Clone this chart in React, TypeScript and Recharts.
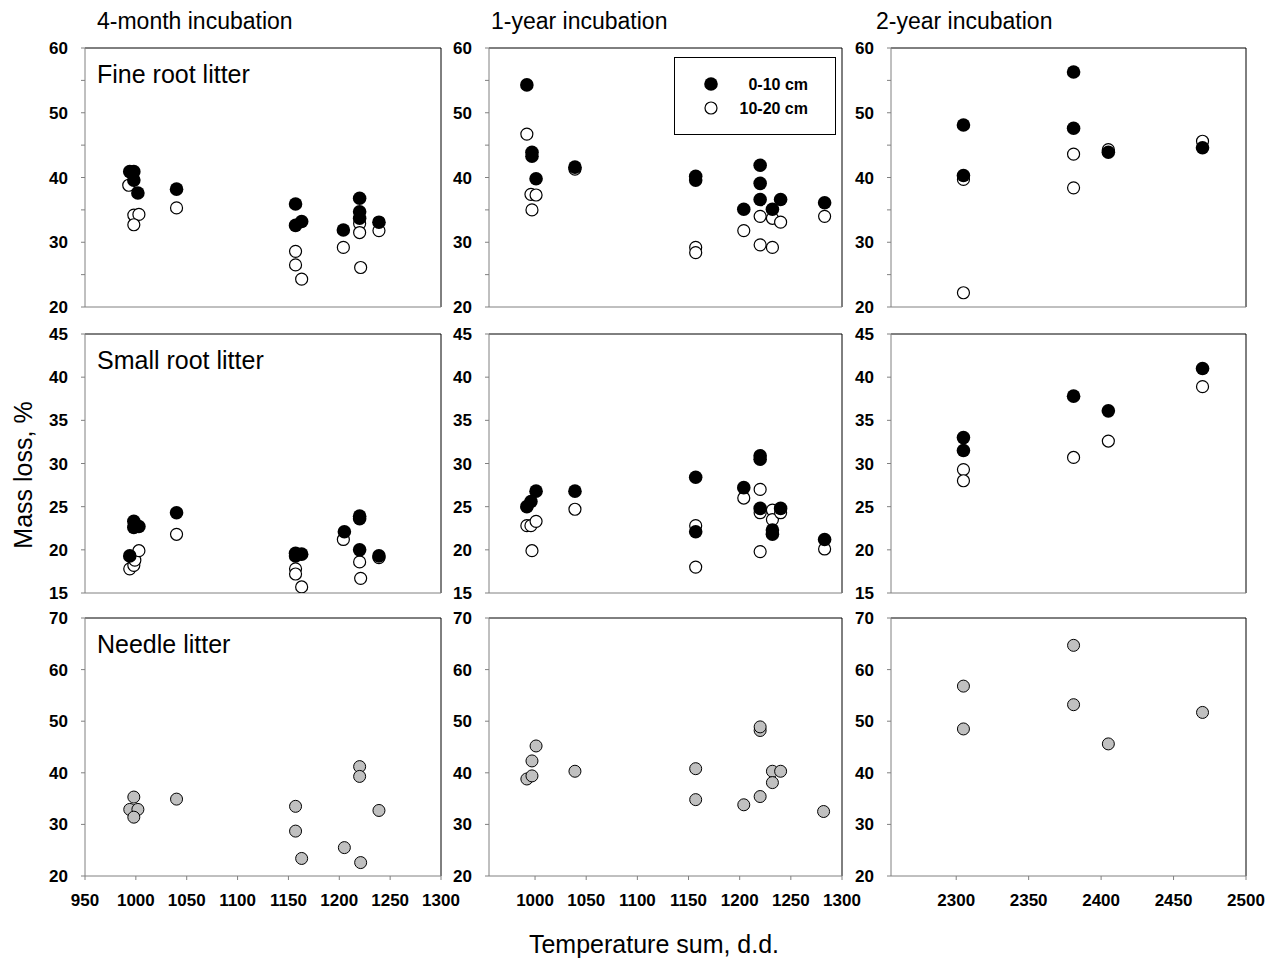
import { ScatterChart, Scatter, XAxis, YAxis, ReferenceLine } from "recharts";

type Pt = [number, number];

// fine root litter, mass loss % vs temperature sum (d.d.)
const fine4mTop: Pt[] = [[994, 40.9], [998, 40.9], [998, 39.6], [1002, 37.6], [1040, 38.2], [1157, 35.9], [1157, 32.6], [1163, 33.2], [1204, 31.9], [1220, 36.8], [1220, 34.7], [1220, 33.7], [1239, 33.1]];
const fine4mSub: Pt[] = [[993, 38.8], [998, 34.2], [1003, 34.3], [998, 32.7], [1040, 35.3], [1157, 28.6], [1157, 26.5], [1163, 24.3], [1204, 29.2], [1220, 32.9], [1220, 31.5], [1221, 26.1], [1239, 31.8]];
const fine1yTop: Pt[] = [[992, 54.3], [997, 43.9], [997, 43.3], [1001, 39.8], [1039, 41.6], [1157, 40.2], [1157, 39.6], [1204, 35.1], [1220, 41.9], [1220, 39.1], [1220, 36.6], [1232, 35.1], [1240, 36.6], [1283, 36.1]];
const fine1ySub: Pt[] = [[992, 46.7], [996, 37.4], [1001, 37.3], [997, 35.0], [1039, 41.3], [1157, 29.2], [1157, 28.4], [1204, 31.8], [1220, 34.0], [1220, 29.6], [1232, 29.2], [1232, 33.7], [1240, 33.1], [1283, 34.0]];
const fine2yTop: Pt[] = [[2305, 48.1], [2305, 40.3], [2381, 56.3], [2381, 47.6], [2405, 43.9], [2470, 44.6]];
const fine2ySub: Pt[] = [[2305, 39.7], [2305, 22.2], [2381, 43.6], [2381, 38.4], [2405, 44.3], [2470, 45.6]];

// small root litter
const small4mTop: Pt[] = [[994, 19.3], [998, 23.3], [998, 22.6], [1003, 22.7], [1040, 24.3], [1157, 19.6], [1157, 19.3], [1163, 19.5], [1205, 22.1], [1220, 23.9], [1220, 23.6], [1220, 20.0], [1239, 19.3]];
const small4mSub: Pt[] = [[994, 17.8], [998, 18.2], [999, 18.8], [1003, 19.9], [1040, 21.8], [1157, 17.8], [1157, 17.2], [1163, 15.7], [1204, 21.2], [1220, 18.6], [1221, 16.7], [1239, 19.1]];
const small1yTop: Pt[] = [[992, 25.0], [996, 25.6], [1001, 26.8], [1039, 26.8], [1157, 28.4], [1157, 22.1], [1204, 27.2], [1220, 30.9], [1220, 30.5], [1220, 24.8], [1232, 22.3], [1232, 21.8], [1240, 24.8], [1283, 21.2]];
const small1ySub: Pt[] = [[992, 22.8], [996, 22.8], [1001, 23.3], [997, 19.9], [1039, 24.7], [1157, 22.8], [1157, 18.0], [1204, 26.0], [1220, 27.0], [1220, 24.3], [1220, 19.8], [1232, 24.6], [1232, 23.5], [1240, 24.3], [1283, 20.1]];
const small2yTop: Pt[] = [[2305, 33.0], [2305, 31.5], [2381, 37.8], [2405, 36.1], [2470, 41.0]];
const small2ySub: Pt[] = [[2305, 29.3], [2305, 28.0], [2381, 30.7], [2405, 32.6], [2470, 38.9]];

// needle litter
const needle4m: Pt[] = [[998, 35.3], [994, 32.9], [1002, 32.9], [998, 31.4], [1040, 34.9], [1157, 33.5], [1157, 28.7], [1163, 23.4], [1205, 25.5], [1220, 41.2], [1220, 39.3], [1221, 22.6], [1239, 32.7]];
const needle1y: Pt[] = [[992, 38.8], [997, 39.4], [997, 42.3], [1001, 45.2], [1039, 40.3], [1157, 40.8], [1157, 34.8], [1204, 33.8], [1220, 48.2], [1220, 48.9], [1220, 35.4], [1232, 40.3], [1232, 38.1], [1240, 40.3], [1282, 32.5]];
const needle2y: Pt[] = [[2305, 56.8], [2305, 48.5], [2381, 64.7], [2381, 53.2], [2405, 45.6], [2470, 51.7]];

const colTitles = ["4-month incubation", "1-year incubation", "2-year incubation"];
const rowLabels = ["Fine root litter", "Small root litter", "Needle litter"];

const xTicks4m = [950, 1000, 1050, 1100, 1150, 1200, 1250, 1300];
const xTicks1y = [1000, 1050, 1100, 1150, 1200, 1250, 1300];
const xTicks2y = [2300, 2350, 2400, 2450, 2500];
const yTicksFine = [20, 25, 30, 35, 40, 45, 50, 55, 60];
const yTicksSmall = [15, 20, 25, 30, 35, 40, 45];
const yTicksNeedle = [20, 30, 40, 50, 60, 70];

const font = "'Liberation Sans', Arial, sans-serif";
const colLeft = [85, 489, 891];
const colWidth = [356, 353, 355];
const rowTop = [48, 334, 618];
const rowHeight = [259, 259, 258];

const pts = (a: Pt[]) => a.map(([t, m]) => ({ t, m }));

const filled = (p: any) => <circle cx={p.cx} cy={p.cy} r={6.8} fill="#000" />;
const open = (p: any) => <circle cx={p.cx} cy={p.cy} r={6} fill="#fff" stroke="#000" strokeWidth={1.2} />;
const gray = (p: any) => <circle cx={p.cx} cy={p.cy} r={6} fill="#c0c0c0" stroke="#000" strokeWidth={1} />;

type PanelProps = {
  col: number;
  row: number;
  xDomain: [number, number];
  xTicks: number[];
  yDomain: [number, number];
  yTicks: number[];
  series: { data: Pt[]; shape: (p: any) => any }[];
};

const tickStyle = { fill: "#000", fontSize: 17, fontWeight: "bold" as const, fontFamily: font };

const Panel = ({ col, row, xDomain, xTicks, yDomain, yTicks, series }: PanelProps) => {
  const w = colWidth[col];
  const h = rowHeight[row];
  return (
    <div style={{ position: "absolute", left: colLeft[col] - 70, top: rowTop[row] - 10 }}>
      <ScatterChart width={w + 100} height={h + 50} margin={{ top: 10, right: 30, bottom: 0, left: 0 }}>
        <XAxis
          type="number"
          dataKey="t"
          domain={xDomain}
          ticks={xTicks}
          interval={0}
          allowDataOverflow
          height={40}
          tick={row === 2 ? tickStyle : false}
          tickSize={4}
          tickMargin={14}
          axisLine={{ stroke: "#808080" }}
          tickLine={{ stroke: "#808080" }}
        />
        <YAxis
          type="number"
          dataKey="m"
          domain={yDomain}
          ticks={yTicks}
          interval={0}
          allowDataOverflow
          width={70}
          tick={tickStyle}
          tickFormatter={(v: number) => (row === 0 && v % 10 !== 0 ? "" : String(v))}
          tickSize={4}
          tickMargin={13}
          axisLine={{ stroke: "#808080" }}
          tickLine={{ stroke: "#808080" }}
        />
        <ReferenceLine y={yDomain[1]} stroke="#000" />
        <ReferenceLine x={xDomain[1]} stroke="#000" />
        {series.map((s, i) => (
          <Scatter key={i} data={pts(s.data)} shape={s.shape} isAnimationActive={false} />
        ))}
      </ScatterChart>
    </div>
  );
};

export default function App() {
  const d4m: [number, number] = [950, 1300];
  const d1y: [number, number] = [955, 1300];
  const d2y: [number, number] = [2255, 2500];
  return (
    <div style={{ position: "absolute", left: 0, top: 0, width: 1273, height: 966, background: "#fff", fontFamily: font, overflow: "hidden" }}>
      <Panel col={0} row={0} xDomain={d4m} xTicks={xTicks4m} yDomain={[20, 60]} yTicks={yTicksFine}
        series={[{ data: fine4mSub, shape: open }, { data: fine4mTop, shape: filled }]} />
      <Panel col={1} row={0} xDomain={d1y} xTicks={xTicks1y} yDomain={[20, 60]} yTicks={yTicksFine}
        series={[{ data: fine1ySub, shape: open }, { data: fine1yTop, shape: filled }]} />
      <Panel col={2} row={0} xDomain={d2y} xTicks={xTicks2y} yDomain={[20, 60]} yTicks={yTicksFine}
        series={[{ data: fine2ySub, shape: open }, { data: fine2yTop, shape: filled }]} />
      <Panel col={0} row={1} xDomain={d4m} xTicks={xTicks4m} yDomain={[15, 45]} yTicks={yTicksSmall}
        series={[{ data: small4mSub, shape: open }, { data: small4mTop, shape: filled }]} />
      <Panel col={1} row={1} xDomain={d1y} xTicks={xTicks1y} yDomain={[15, 45]} yTicks={yTicksSmall}
        series={[{ data: small1ySub, shape: open }, { data: small1yTop, shape: filled }]} />
      <Panel col={2} row={1} xDomain={d2y} xTicks={xTicks2y} yDomain={[15, 45]} yTicks={yTicksSmall}
        series={[{ data: small2ySub, shape: open }, { data: small2yTop, shape: filled }]} />
      <Panel col={0} row={2} xDomain={d4m} xTicks={xTicks4m} yDomain={[20, 70]} yTicks={yTicksNeedle}
        series={[{ data: needle4m, shape: gray }]} />
      <Panel col={1} row={2} xDomain={d1y} xTicks={xTicks1y} yDomain={[20, 70]} yTicks={yTicksNeedle}
        series={[{ data: needle1y, shape: gray }]} />
      <Panel col={2} row={2} xDomain={d2y} xTicks={xTicks2y} yDomain={[20, 70]} yTicks={yTicksNeedle}
        series={[{ data: needle2y, shape: gray }]} />

      {/* titles, axis labels and legend on top */}
      <svg width={1273} height={966} style={{ position: "absolute", left: 0, top: 0, pointerEvents: "none" }} fontFamily={font}>
        {colTitles.map((t, i) => (
          <text key={t} x={[97, 491, 876][i]} y={29} fontSize={23} fill="#000">{t}</text>
        ))}
        {rowLabels.map((t, i) => (
          <text key={t} x={97} y={rowTop[i] + 35} fontSize={25} fill="#000">{t}</text>
        ))}
        <text x={32} y={475} fontSize={25} textAnchor="middle" transform="rotate(-90 32 475)" fill="#000">Mass loss, %</text>
        <text x={654} y={953} fontSize={25} textAnchor="middle" fill="#000">Temperature sum, d.d.</text>

        <rect x={674.5} y={57.5} width={161} height={77} fill="#fff" stroke="#000" />
        <circle cx={711} cy={84} r={6.8} fill="#000" />
        <circle cx={711} cy={108} r={6} fill="#fff" stroke="#000" strokeWidth={1.2} />
        <text x={808} y={90} fontSize={16} fontWeight="bold" textAnchor="end" fill="#000">0-10 cm</text>
        <text x={808} y={114} fontSize={16} fontWeight="bold" textAnchor="end" fill="#000">10-20 cm</text>
      </svg>
    </div>
  );
}
